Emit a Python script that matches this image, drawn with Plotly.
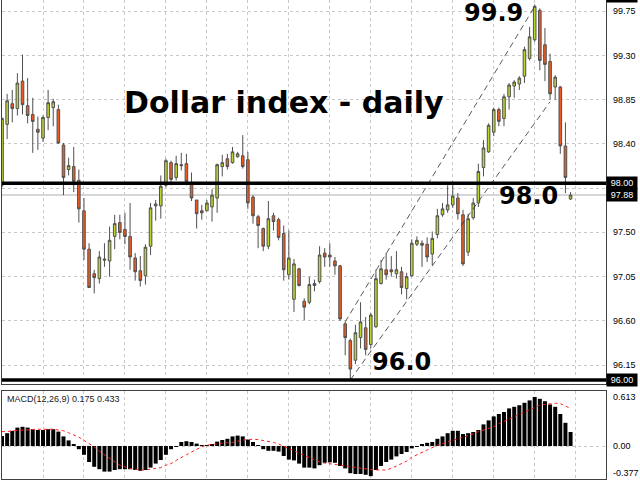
import plotly.graph_objects as go

# ---------------- data ----------------
open_ = [97.98, 98.60, 98.81, 98.76, 99.04, 98.79, 98.70, 98.55, 98.46, 98.67,
         98.77, 98.75, 98.39, 98.14, 98.17, 98.03, 97.72, 97.33, 97.08, 97.03,
         97.23, 97.21, 97.46, 97.60, 97.53, 97.46, 97.24, 97.11, 97.06, 97.36,
         97.77, 97.77, 97.98, 98.21, 98.06, 98.19, 98.20, 97.99, 97.83, 97.72,
         97.72, 97.76, 97.85, 98.17, 98.25, 98.21, 98.27, 98.28, 98.24, 97.86,
         97.66, 97.54, 97.36, 97.67, 97.63, 97.49, 97.07, 96.82, 97.13, 96.80,
         96.79, 96.98, 97.00, 97.29, 97.27, 97.21, 97.16, 96.57, 96.40, 96.20,
         96.43, 96.53, 96.36, 96.54, 96.98, 97.12, 97.12, 97.08, 97.10, 96.93,
         97.06, 97.38, 97.39, 97.38, 97.28, 97.48, 97.68, 97.73, 97.78, 97.85,
         97.68, 97.30, 97.65, 97.80, 98.16, 98.32, 98.52, 98.75, 98.66, 98.88,
         98.99, 99.01, 99.09, 99.27, 99.46, 99.76, 99.41, 99.24, 98.98, 98.98,
         98.38, 97.84]
high = [98.67, 98.91, 98.95, 99.12, 99.31, 99.07, 98.87, 98.68, 98.69, 98.95,
        98.86, 98.80, 98.41, 98.26, 98.37, 98.14, 97.85, 97.39, 97.12, 97.31,
        97.39, 97.56, 97.68, 97.68, 97.70, 97.80, 97.29, 97.26, 97.38, 97.80,
        97.83, 98.08, 98.25, 98.23, 98.28, 98.31, 98.30, 98.11, 97.83, 97.78,
        97.83, 97.94, 98.20, 98.29, 98.30, 98.37, 98.32, 98.49, 98.32, 97.88,
        97.68, 97.55, 97.82, 97.70, 97.65, 97.57, 97.52, 97.23, 97.14, 96.83,
        97.05, 97.02, 97.36, 97.34, 97.39, 97.25, 97.17, 96.59, 96.42, 96.56,
        96.79, 96.64, 96.68, 97.12, 97.22, 97.29, 97.26, 97.31, 97.15, 97.09,
        97.43, 97.46, 97.42, 97.45, 97.51, 97.74, 97.80, 97.98, 98.02, 97.90,
        97.73, 97.69, 97.85, 98.20, 98.44, 98.61, 98.77, 98.77, 98.91, 99.02,
        99.05, 99.09, 99.39, 99.59, 99.82, 99.78, 99.58, 99.32, 99.10, 98.99,
        98.62, 97.91]
low = [97.96, 98.45, 98.62, 98.69, 98.70, 98.61, 98.31, 98.34, 98.42, 98.54,
       98.58, 98.40, 97.88, 98.08, 97.91, 97.60, 97.22, 96.94, 96.88, 96.98,
       97.15, 97.05, 97.33, 97.43, 97.38, 97.12, 97.01, 96.95, 96.97, 97.27,
       97.62, 97.64, 97.96, 97.98, 98.03, 98.13, 97.98, 97.82, 97.54, 97.63,
       97.72, 97.61, 97.70, 98.07, 98.14, 98.20, 98.26, 98.15, 97.74, 97.59,
       97.34, 97.31, 97.33, 97.52, 97.42, 97.01, 97.02, 96.69, 96.95, 96.61,
       96.77, 96.90, 96.98, 97.15, 97.15, 97.07, 96.60, 96.25, 96.00, 96.16,
       96.32, 96.25, 96.32, 96.53, 96.97, 97.02, 97.05, 97.03, 96.87, 96.82,
       97.05, 97.36, 97.15, 97.20, 97.17, 97.44, 97.66, 97.70, 97.75, 97.63,
       97.16, 97.26, 97.63, 97.76, 98.07, 98.31, 98.48, 98.58, 98.58, 98.75,
       98.87, 98.95, 99.02, 99.25, 99.44, 99.15, 99.04, 98.85, 98.85, 98.30,
       97.90, 97.83]
close = [98.66, 98.84, 98.76, 99.02, 98.80, 98.69, 98.63, 98.52, 98.67, 98.82,
         98.83, 98.41, 98.06, 98.18, 98.02, 97.74, 97.33, 96.94, 97.04, 97.25,
         97.22, 97.42, 97.59, 97.50, 97.46, 97.25, 97.10, 97.01, 97.35, 97.75,
         97.79, 97.97, 98.23, 98.04, 98.20, 98.18, 98.02, 97.85, 97.69, 97.70,
         97.80, 97.88, 98.19, 98.21, 98.17, 98.32, 98.30, 98.17, 97.80, 97.67,
         97.57, 97.36, 97.64, 97.61, 97.45, 97.12, 97.24, 97.18, 96.96, 96.74,
         96.97, 96.96, 97.27, 97.25, 97.25, 97.16, 96.62, 96.43, 96.11, 96.48,
         96.59, 96.31, 96.66, 97.03, 97.13, 97.07, 97.10, 97.12, 96.94, 97.05,
         97.39, 97.42, 97.37, 97.25, 97.44, 97.67, 97.74, 97.78, 97.87, 97.69,
         97.18, 97.64, 97.80, 98.12, 98.36, 98.59, 98.75, 98.63, 98.88, 99.00,
         99.03, 99.07, 99.36, 99.49, 99.80, 99.25, 99.21, 98.91, 99.08, 98.38,
         98.06, 97.88]

macd_main = [0.125, 0.16, 0.19, 0.23, 0.24, 0.23, 0.21, 0.20, 0.20, 0.21,
             0.21, 0.18, 0.12, 0.07, 0.025, -0.04, -0.11, -0.20, -0.26, -0.29,
             -0.32, -0.32, -0.30, -0.29, -0.29, -0.29, -0.30, -0.31, -0.30, -0.27,
             -0.22, -0.175, -0.11, -0.04, -0.005, 0.05, 0.06, 0.05, 0.03, 0.01,
             0.01, 0.025, 0.055, 0.075, 0.09, 0.12, 0.13, 0.12, 0.08, 0.05,
             0.01, -0.04, -0.06, -0.06, -0.07, -0.125, -0.17, -0.18, -0.22, -0.27,
             -0.27, -0.28, -0.24, -0.21, -0.205, -0.21, -0.25, -0.28, -0.34, -0.35,
             -0.35, -0.36, -0.377, -0.30, -0.25, -0.20, -0.17, -0.13, -0.10, -0.075,
             -0.03, -0.01, 0.02, 0.04, 0.05, 0.09, 0.12, 0.16, 0.19, 0.19,
             0.15, 0.16, 0.175, 0.20, 0.27, 0.32, 0.37, 0.40, 0.425, 0.47,
             0.49, 0.51, 0.54, 0.57, 0.613, 0.59, 0.56, 0.52, 0.49, 0.40,
             0.29, 0.175]
macd_signal = [0.18, 0.18, 0.19, 0.195, 0.20, 0.20, 0.21, 0.21, 0.21, 0.21,
               0.21, 0.20, 0.19, 0.165, 0.14, 0.11, 0.07, 0.03, -0.01, -0.065,
               -0.11, -0.16, -0.20, -0.24, -0.26, -0.28, -0.29, -0.30, -0.30, -0.29,
               -0.28, -0.27, -0.24, -0.22, -0.18, -0.15, -0.11, -0.075, -0.04, -0.01,
               0.01, 0.02, 0.03, 0.035, 0.04, 0.045, 0.06, 0.075, 0.08, 0.085,
               0.08, 0.07, 0.06, 0.045, 0.025, 0.00, -0.03, -0.06, -0.09, -0.12,
               -0.15, -0.175, -0.20, -0.215, -0.22, -0.23, -0.24, -0.25, -0.26, -0.27,
               -0.28, -0.29, -0.295, -0.30, -0.30, -0.30, -0.28, -0.25, -0.22, -0.19,
               -0.14, -0.11, -0.07, -0.04, -0.01, 0.01, 0.03, 0.05, 0.07, 0.09,
               0.11, 0.13, 0.15, 0.18, 0.20, 0.22, 0.24, 0.28, 0.31, 0.34,
               0.37, 0.40, 0.43, 0.46, 0.49, 0.51, 0.52, 0.53, 0.535, 0.53,
               0.50, 0.47]

bar_index = list(range(len(close)))

price_ticks = [99.75, 99.30, 98.85, 98.40, 97.95, 97.50, 97.05, 96.60, 96.15]
price_tick_text = ["99.75", "99.30", "98.85", "98.40", "", "97.50", "97.05", "96.60", "96.15"]
level_lines = [98.00, 96.00]
level_labels = ["98.00", "96.00"]
current_price = 97.88
hidden_level_label = "99.90"
macd_ticks = [0.613, 0.00, -0.377]
macd_tick_text = ["0.613", "0.00", "-0.377"]

upper_channel_x = [67, 104]
upper_channel_y = [96.59, 99.80]
lower_channel_x = [68, 107]
lower_channel_y = [96.00, 98.83]

level_texts = ["99.9", "98.0", "96.0"]
title_text = "Dollar index - daily"
macd_label = "MACD(12,26,9) 0.175 0.433"

# ---------------- figure ----------------
fig = go.Figure()

fig.add_trace(go.Candlestick(
    x=bar_index, open=open_, high=high, low=low, close=close,
    increasing=dict(fillcolor="#bcd430", line=dict(color="#505050", width=1)),
    decreasing=dict(fillcolor="#ee5a20", line=dict(color="#505050", width=1)),
    whiskerwidth=0, xaxis="x", yaxis="y", hoverinfo="skip", showlegend=False))

for cx, cy in [(upper_channel_x, upper_channel_y), (lower_channel_x, lower_channel_y)]:
    fig.add_trace(go.Scatter(x=cx, y=cy, mode="lines",
                             line=dict(color="#303030", width=0.8, dash="6px,4px"),
                             xaxis="x", yaxis="y", hoverinfo="skip", showlegend=False))

fig.add_trace(go.Bar(x=bar_index, y=macd_main, marker=dict(color="black", line=dict(width=0)),
                     xaxis="x2", yaxis="y2", hoverinfo="skip", showlegend=False))
fig.add_trace(go.Scatter(x=bar_index, y=macd_signal, mode="lines",
                         line=dict(color="#ff2020", width=1, dash="dot"),
                         xaxis="x2", yaxis="y2", hoverinfo="skip", showlegend=False))

shapes = []
shapes.append(dict(type="line", xref="paper", yref="y", x0=0, x1=1, y0=current_price, y1=current_price,
                   line=dict(color="#c8c8c8", width=1.5), layer="below"))
for lv in level_lines:
    shapes.append(dict(type="line", xref="paper", yref="y", x0=0, x1=1, y0=lv, y1=lv,
                       line=dict(color="black", width=3.5), layer="above"))

lab_font = dict(family="Liberation Sans", size=9, color="black")
box_font = dict(family="Liberation Sans", size=9, color="white")
annotations = []
for v, t in zip(price_ticks, price_tick_text):
    if t:
        annotations.append(dict(xref="paper", yref="y", x=1, y=v, xanchor="left", yanchor="middle",
                                xshift=5, text=t, showarrow=False, font=lab_font))
for v, t in zip(level_lines + [current_price], level_labels + ["97.88"]):
    annotations.append(dict(xref="paper", yref="y", x=1, y=v, xanchor="left", yanchor="middle",
                            text=t, showarrow=False, bgcolor="black", width=28, height=10,
                            borderpad=1, font=box_font))
annotations.append(dict(xref="paper", yref="paper", x=1, y=1, xanchor="left", yanchor="middle",
                        yshift=4, text=hidden_level_label, showarrow=False, bgcolor="black",
                        width=28, height=10, borderpad=1, font=box_font))
for v, t in zip(macd_ticks, macd_tick_text):
    annotations.append(dict(xref="paper", yref="y2", x=1, y=v, xanchor="left", yanchor="middle",
                            xshift=5, yshift=3 if v < 0 else 0,
                            text=t, showarrow=False, font=lab_font))

big = dict(family="DejaVu Sans", size=24, color="black")
annotations.append(dict(xref="paper", yref="paper", x=0.467, y=0.787, xanchor="center", yanchor="middle",
                        text="<b>%s</b>" % title_text, showarrow=False,
                        font=dict(family="DejaVu Sans", size=30, color="black")))
for (px, py), t in zip([(0.813, 0.973), (0.8725, 0.591), (0.6606, 0.244)], level_texts):
    annotations.append(dict(xref="paper", yref="paper", x=px, y=py, xanchor="center", yanchor="middle",
                            text="<b>%s</b>" % t, showarrow=False, font=big))
annotations.append(dict(xref="paper", yref="paper", x=0.005, y=0.167, xanchor="left", yanchor="middle",
                        text=macd_label, showarrow=False,
                        font=dict(family="Liberation Sans", size=9, color="#202020")))

grid = dict(showgrid=True, gridcolor="#c8c8c8", griddash="dot", gridwidth=1, zeroline=False,
            ticks="", showticklabels=False)
vt = list(range(8, 120, 8))

fig.update_layout(
    width=640, height=480, margin=dict(l=2, r=34, t=0, b=1),
    paper_bgcolor="white", plot_bgcolor="white", showlegend=False,
    boxgap=0.28, bargap=0.22, hovermode=False,
    xaxis=dict(domain=[0, 1], range=[-0.004, 117.92], tickvals=vt, anchor="y",
               rangeslider=dict(visible=False), showline=True, linecolor="#404040", linewidth=1,
               **grid),
    yaxis=dict(domain=[0.1983, 1], range=[95.958, 99.865], tickvals=price_ticks, side="right",
               showline=True, mirror=True, linecolor="#404040", linewidth=1, anchor="x", **grid),
    xaxis2=dict(domain=[0, 1], range=[-0.004, 117.92], tickvals=vt, anchor="y2",
                showline=True, mirror=True, linecolor="#404040", linewidth=1, **grid),
    yaxis2=dict(domain=[0, 0.1837], range=[-0.4125, 0.6875], tickvals=[0], side="right",
                showline=True, mirror=True, linecolor="#404040", linewidth=1, anchor="x2", **grid),
    shapes=shapes, annotations=annotations,
)

fig.write_html("out.html", config={"displayModeBar": False},
               post_script="document.body.style.margin='0';document.body.style.overflow='hidden';")
